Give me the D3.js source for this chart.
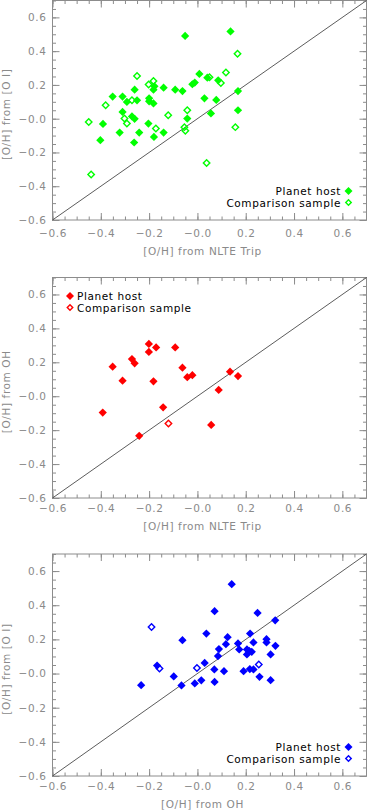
<!DOCTYPE html>
<html>
<head>
<meta charset="utf-8">
<script src="https://cdn.jsdelivr.net/npm/d3@7"></script>
<style>
  body { margin: 0; background: #fff; }
  svg { display: block; }
  text { font-family: "DejaVu Sans", sans-serif; }
</style>
</head>
<body>
<script>
// axis ticks shared by all three panels
const majorTicks = [-0.6, -0.4, -0.2, 0.0, 0.2, 0.4, 0.6];
const tickLabels = ['\u22120.6', '\u22120.4', '\u22120.2', '\u22120.0', '0.2', '0.4', '0.6'];
const yTickLabels = ['\u22120.6', '\u22120.4', '\u22120.2', '\u22120.0', '0.2', '0.4', '0.6'];
const axisRange = [-0.6, 0.7];

// panel 1: [O/H] from NLTE triplet vs [O I]
const p1Host = [
  [-0.051, 0.49], [0.137, 0.517], [-0.178, 0.192], [-0.182, 0.172], [-0.140, 0.184],
  [-0.092, 0.172], [-0.062, 0.164], [0.008, 0.265], [-0.021, 0.204], [-0.011, 0.214],
  [0.041, 0.243], [0.086, 0.227], [0.168, 0.164], [0.168, 0.05], [0.029, 0.121],
  [0.078, 0.111], [0.056, 0.031], [-0.042, 0.001], [-0.203, -0.029], [-0.180, -0.108],
  [-0.140, -0.082], [-0.182, 0.090], [-0.200, 0.121], [-0.200, 0.103], [-0.250, 0.109],
  [-0.260, 0.172], [-0.310, 0.131], [-0.292, 0.099], [-0.351, 0.131], [-0.310, 0.040],
  [-0.271, 0.013], [-0.260, -0.001], [-0.391, -0.031], [-0.322, -0.082], [-0.241, -0.082],
  [-0.402, -0.127], [-0.262, -0.141],
];
const p1Comp = [
  [0.166, 0.385], [-0.250, 0.253], [-0.202, 0.202], [-0.182, 0.223], [0.050, 0.245],
  [0.097, 0.211], [0.118, 0.273], [0.157, -0.05], [-0.042, 0.05], [-0.054, -0.05],
  [-0.050, -0.072], [-0.121, 0.021], [-0.172, -0.058], [-0.271, 0.109], [-0.380, 0.080],
  [-0.302, 0.001], [-0.292, -0.029], [-0.450, -0.019], [-0.440, -0.330], [0.038, -0.263],
];

// panel 2: NLTE triplet vs OH
const p2Host = [
  [-0.351, 0.174], [-0.310, 0.092], [-0.271, 0.219], [-0.260, 0.194], [-0.201, 0.308],
  [-0.201, 0.261], [-0.171, 0.288], [-0.182, 0.088], [-0.092, 0.288], [-0.062, 0.168],
  [-0.042, 0.112], [-0.021, 0.124], [0.135, 0.145], [0.168, 0.119], [0.088, 0.037],
  [-0.142, -0.065], [-0.392, -0.096], [-0.241, -0.233], [0.057, -0.169],
];
const p2Comp = [[-0.120, -0.161]];

// panel 3: OH vs [O I]
const p3Host = [
  [0.142, 0.523], [0.071, 0.365], [0.249, 0.355], [0.322, 0.312], [-0.062, 0.195],
  [0.037, 0.234], [0.125, 0.213], [0.118, 0.172], [0.168, 0.176], [0.218, 0.234],
  [0.232, 0.182], [0.286, 0.201], [0.286, 0.182], [0.323, 0.162], [0.303, 0.112],
  [0.089, 0.143], [0.085, 0.102], [0.173, 0.141], [0.205, 0.141], [0.214, 0.133],
  [0.205, 0.112], [0.225, 0.127], [0.030, 0.062], [0.070, 0.024], [0.110, 0.014],
  [0.191, 0.014], [0.217, 0.026], [0.232, 0.024], [0.257, -0.019], [-0.167, 0.047],
  [-0.098, -0.017], [-0.233, -0.068], [-0.066, -0.070], [-0.011, -0.058], [0.016, -0.040],
  [0.071, -0.049], [0.303, -0.039],
];
const p3Comp = [[-0.190, 0.273], [-0.002, 0.033], [0.254, 0.053], [-0.157, 0.029]];

const legendLabels = ['Planet host', 'Comparison sample'];

const panels = [
  { host: p1Host, comp: p1Comp, color: '#00ff00', xTitle: '[O/H] from NLTE Trip', yTitle: '[O/H] from [O I]', top: 0.5, height: 219.5, pad: 10, legend: 'right' },
  { host: p2Host, comp: p2Comp, color: '#ff0000', xTitle: '[O/H] from NLTE Trip', yTitle: '[O/H] from OH', top: 277.5, height: 220.5, pad: 7, legend: 'left' },
  { host: p3Host, comp: p3Comp, color: '#0000ff', xTitle: '[O/H] from OH', yTitle: '[O/H] from [O I]', top: 554, height: 222, pad: 7, legend: 'right' },
];

const W = 367;
const H = 811;
const left = 52.5;
const right = 366.5;
const axisColor = '#8c8c8c';
const textColor = '#8a8a8a';

const svg = d3.select('body').append('svg')
  .attr('width', W)
  .attr('height', H);

const minorTicks = d3.range(-0.6, 0.7001, 0.05).map((d) => Math.round(d * 100) / 100);

const diamond = d3.symbol().type(d3.symbolSquare);

function drawPanel(p) {
  const bottom = p.top + p.height;
  const x = d3.scaleLinear().domain(axisRange).range([left, right]);
  const y = d3.scaleLinear().domain(axisRange).range([bottom, p.top]);
  const g = svg.append('g');

  // axes, ticks pointing inward on all four sides
  const addAxis = (axis, transform, size, values, labels, pad) => {
    const a = axis.tickValues(values).tickSizeInner(-size).tickSizeOuter(0).tickPadding(pad);
    a.tickFormat(labels ? (d, i) => labels[i] : '');
    const ag = g.append('g').attr('transform', transform).call(a);
    ag.select('.domain').remove();
    ag.selectAll('line').attr('stroke', axisColor).attr('stroke-width', 1);
    ag.selectAll('text').attr('fill', textColor).style('font-size', '10.5px')
      .attr('font-family', '"DejaVu Sans", sans-serif').attr('letter-spacing', '0.6');
  };

  addAxis(d3.axisBottom(x), `translate(0,${bottom})`, 7, majorTicks, tickLabels, p.pad);
  addAxis(d3.axisBottom(x), `translate(0,${bottom})`, 3.5, minorTicks, null, 6);
  addAxis(d3.axisTop(x), `translate(0,${p.top})`, 7, majorTicks, null, 6);
  addAxis(d3.axisTop(x), `translate(0,${p.top})`, 3.5, minorTicks, null, 6);
  addAxis(d3.axisLeft(y), `translate(${left},0)`, 7, majorTicks, yTickLabels, 6);
  addAxis(d3.axisLeft(y), `translate(${left},0)`, 3.5, minorTicks, null, 6);
  addAxis(d3.axisRight(y), `translate(${right},0)`, 7, majorTicks, null, 6);
  addAxis(d3.axisRight(y), `translate(${right},0)`, 3.5, minorTicks, null, 6);

  g.selectAll('.tick text').filter(function () { return this.textContent === ''; }).remove();

  // frame
  g.append('rect')
    .attr('x', left).attr('y', p.top)
    .attr('width', right - left).attr('height', bottom - p.top)
    .attr('fill', 'none').attr('stroke', axisColor).attr('stroke-width', 1);

  // one-to-one line
  g.append('line')
    .attr('x1', x(axisRange[0])).attr('y1', y(axisRange[0]))
    .attr('x2', x(axisRange[1])).attr('y2', y(axisRange[1]))
    .attr('stroke', '#4a4a4a').attr('stroke-width', 0.9);

  // points
  g.selectAll('.host').data(p.host).enter().append('path')
    .attr('d', diamond.size(34)())
    .attr('transform', (d) => `translate(${x(d[0])},${y(d[1])}) rotate(45)`)
    .attr('fill', p.color);

  g.selectAll('.comp').data(p.comp).enter().append('path')
    .attr('d', diamond.size(21)())
    .attr('transform', (d) => `translate(${x(d[0])},${y(d[1])}) rotate(45)`)
    .attr('fill', 'none').attr('stroke', p.color).attr('stroke-width', 1.4);

  // titles
  g.append('text')
    .attr('x', (left + right) / 2 - 7).attr('y', bottom + p.pad + 25)
    .attr('text-anchor', 'middle').attr('fill', textColor)
    .style('font-size', '10.5px').attr('letter-spacing', '0.6')
    .text(p.xTitle);

  g.append('text')
    .attr('transform', `translate(10,${p.top + p.height / 2 + 4}) rotate(-90)`)
    .attr('text-anchor', 'middle').attr('fill', textColor)
    .style('font-size', '10.5px').attr('letter-spacing', '0.6')
    .text(p.yTitle);

  // legend
  const lg = g.append('g');
  legendLabels.forEach((label, i) => {
    let tx; let sx; let ty;
    if (p.legend === 'right') {
      sx = 348.5;
      tx = 341;
      ty = bottom - 29 + i * 11.5;
    } else {
      sx = 70;
      tx = 77;
      ty = p.top + 18.5 + i * 11.5;
    }
    lg.append('text')
      .attr('x', tx).attr('y', ty + 4)
      .attr('text-anchor', p.legend === 'right' ? 'end' : 'start')
      .attr('fill', '#000')
      .style('font-size', '10.5px').attr('letter-spacing', '0.6')
      .text(label);
    const m = lg.append('path')
      .attr('transform', `translate(${sx},${ty}) rotate(45)`);
    if (i === 0) {
      m.attr('d', diamond.size(32)()).attr('fill', p.color);
    } else {
      m.attr('d', diamond.size(15)()).attr('fill', 'none')
        .attr('stroke', p.color).attr('stroke-width', 1.4);
    }
  });
}

panels.forEach(drawPanel);
</script>
</body>
</html>
